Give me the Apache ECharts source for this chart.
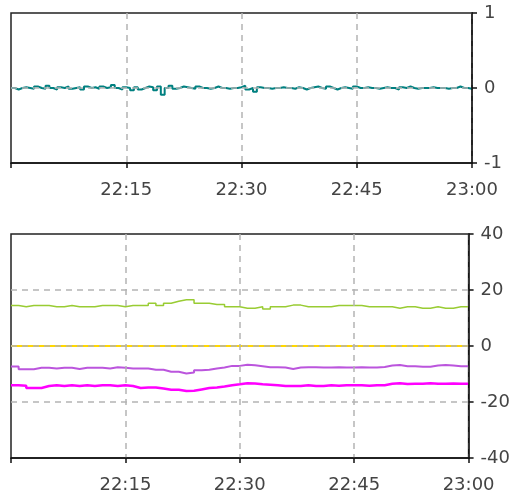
<!DOCTYPE html>
<html><head><meta charset="utf-8">
<script src="https://cdn.jsdelivr.net/npm/echarts@6/dist/echarts.min.js"></script>
<style>html,body{margin:0;padding:0;background:#fff}#c{width:513px;height:494px}</style>
</head><body><div id="c"></div>
<script>
// x labels (minutes after 22:00)
const xTickLabels = {15:'22:15',30:'22:30',45:'22:45',60:'23:00'};
const topTicks = [1,0,-1];
const bottomTicks = [40,20,0,-20,-40];

// top panel: one sample every 30 s, 22:00 .. 23:00
const tealValues = [
 0,-0.02,0,0.01,0,-0.01,0.02,0,-0.01,0.03, 0,-0.02,0.01,0,0.02,-0.01,0,0.01,-0.02,0.02, 0,0.01,-0.01,0.02,0,0.01,0.04,0,-0.02,0.01, 0,
 -0.03,0.01,-0.02,0,0.02,0.01,-0.03,0.02,-0.09,0, 0.03,-0.01,0,0.02,0.01,0,-0.01,0.02,0,0, -0.01,0,0.02,0,0,-0.01,0,0,0.01,0.03,
 -0.02,0,-0.05,0.01,0,0,-0.01,0,0,0.01, 0,0,-0.01,0.01,0,-0.02,0,0.01,0.02,0, -0.01,0.02,0,-0.02,0,0.01,0,-0.01,0.02,0,
 0,0.01,0,0,-0.01,0,0.01,0,0,-0.02, 0.01,0,0.02,0,-0.01,0,0,0,0.01,0, 0,0,-0.01,0,0,0.02,0,0,-0.01,0
];

// bottom panel: one sample per minute, 22:00 .. 23:00
const greenValues = [14.5,14.0,14.5,14.5,14.5,14.0,14.0,14.5,14.0,14.0, 14.0,14.5,14.5,14.5,14.0,14.5,14.5,14.5,15.3,14.5,
 15.3,16.0,16.5,16.5,15.3,15.3,14.8,14.8,14.0,14.0, 13.5,13.5,14.0,13.2,14.0,14.0,14.6,14.6,14.0,14.0,
 14.0,14.0,14.5,14.5,14.5,14.5,14.0,14.0,14.0,14.0, 13.5,14.0,14.0,13.5,13.5,14.0,13.5,13.5,14.0,14.0,14.0];
const yellowValues = [0,0,0,0,0,0,0,0,0,0, 0,0,0,0,0,0,0,0,0,0, 0,0,0,0,0,0,0,0,0,0, 0,0,0,0,0,0,0,0,0,0, 0,0,0,0,0,0,0,0,0,0, 0,0,0,0,0,0,0,0,0,0,0];
const purpleValues = [-7.3,-8.3,-8.3,-7.8,-7.8,-8.0,-7.8,-7.8,-8.2,-7.8, -7.8,-7.8,-8.0,-7.6,-7.8,-8.0,-8.0,-8.0,-8.5,-8.5,
 -9.2,-9.2,-9.8,-9.5,-8.7,-8.5,-8.0,-7.7,-7.1,-7.1, -6.7,-6.9,-7.2,-7.6,-7.6,-7.7,-8.2,-7.7,-7.6,-7.6,
 -7.7,-7.7,-7.6,-7.7,-7.7,-7.6,-7.7,-7.7,-7.5,-7.0, -6.8,-7.2,-7.2,-7.4,-7.4,-7.0,-6.8,-7.0,-7.2,-7.2,-7.2];
const magentaValues = [-14.0,-14.2,-15.0,-15.0,-14.3,-14.0,-14.3,-14.0,-14.3,-14.0, -14.3,-14.0,-14.0,-14.3,-14.0,-14.3,-15.0,-14.8,-14.8,-15.2,
 -15.6,-15.6,-16.1,-16.0,-15.5,-15.0,-14.8,-14.5,-14.0,-13.7, -13.3,-13.4,-13.7,-13.8,-14.0,-14.3,-14.3,-14.3,-14.0,-14.3,
 -14.3,-14.0,-14.2,-14.0,-14.0,-14.0,-14.2,-14.0,-14.0,-13.5, -13.3,-13.6,-13.5,-13.5,-13.3,-13.5,-13.5,-13.4,-13.5,-13.5,-13.5];

const topData = tealValues.map((v,i)=>[i*0.5, v]);
const mk = arr => arr.map((v,i)=>[i, v]);

const font = {fontFamily:'DejaVu Sans', fontSize:18, color:'#444'};
const dash = {color:'#b4b4b4', width:1.5, type:[6,5]};
function xAxis(gi){
  return {type:'value', gridIndex:gi, min:0, max:60, interval:15, z:3,
    axisLine:{show:true, onZero:false, lineStyle:{color:'#111', width:1.5}},
    axisTick:{show:true, length:5, inside:false, lineStyle:{color:'#111', width:1.5}},
    axisLabel:Object.assign({margin:18, formatter:v=>xTickLabels[v]||''}, font),
    splitLine:{show:true, showMinLine:false, showMaxLine:true, lineStyle:dash}};
}
function yAxis(gi, min, max, interval){
  return {type:'value', gridIndex:gi, position:'right', min, max, interval, z:3,
    axisLine:{show:true, onZero:false, lineStyle:{color:'#111', width:1.5}},
    axisTick:{show:true, length:5, inside:false, lineStyle:{color:'#111', width:1.5}},
    axisLabel:Object.assign({margin:12}, font),
    splitLine:{show:true, showMinLine:false, showMaxLine:false, lineStyle:dash}};
}
const line = (name, data, color, width, xi) => ({name, type:'line', xAxisIndex:xi, yAxisIndex:xi, data,
  step:'end', showSymbol:false, symbol:'none', animation:false, lineStyle:{color, width}, z:2});

const chart = echarts.init(document.getElementById('c'), null, {renderer:'canvas'});
chart.setOption({
  animation:false,
  grid:[
    {left:11, top:13, right:41, height:150, show:true, borderColor:'#222', borderWidth:1.5, backgroundColor:'#fff'},
    {left:11, top:234, right:41, height:224, show:true, borderColor:'#222', borderWidth:1.5, backgroundColor:'#fff'}
  ],
  xAxis:[xAxis(0), xAxis(1)],
  yAxis:[yAxis(0,-1,1,1), yAxis(1,-40,40,20)],
  series:[
    line('teal', topData, '#008080', 2, 0),
    line('green', mk(greenValues), '#99cc33', 1.5, 1),
    line('yellow', mk(yellowValues), '#ffd700', 2, 1),
    line('purple', mk(purpleValues), '#bb55dd', 2, 1),
    line('magenta', mk(magentaValues), '#ff00ff', 2.5, 1)
  ]
});
</script></body></html>
